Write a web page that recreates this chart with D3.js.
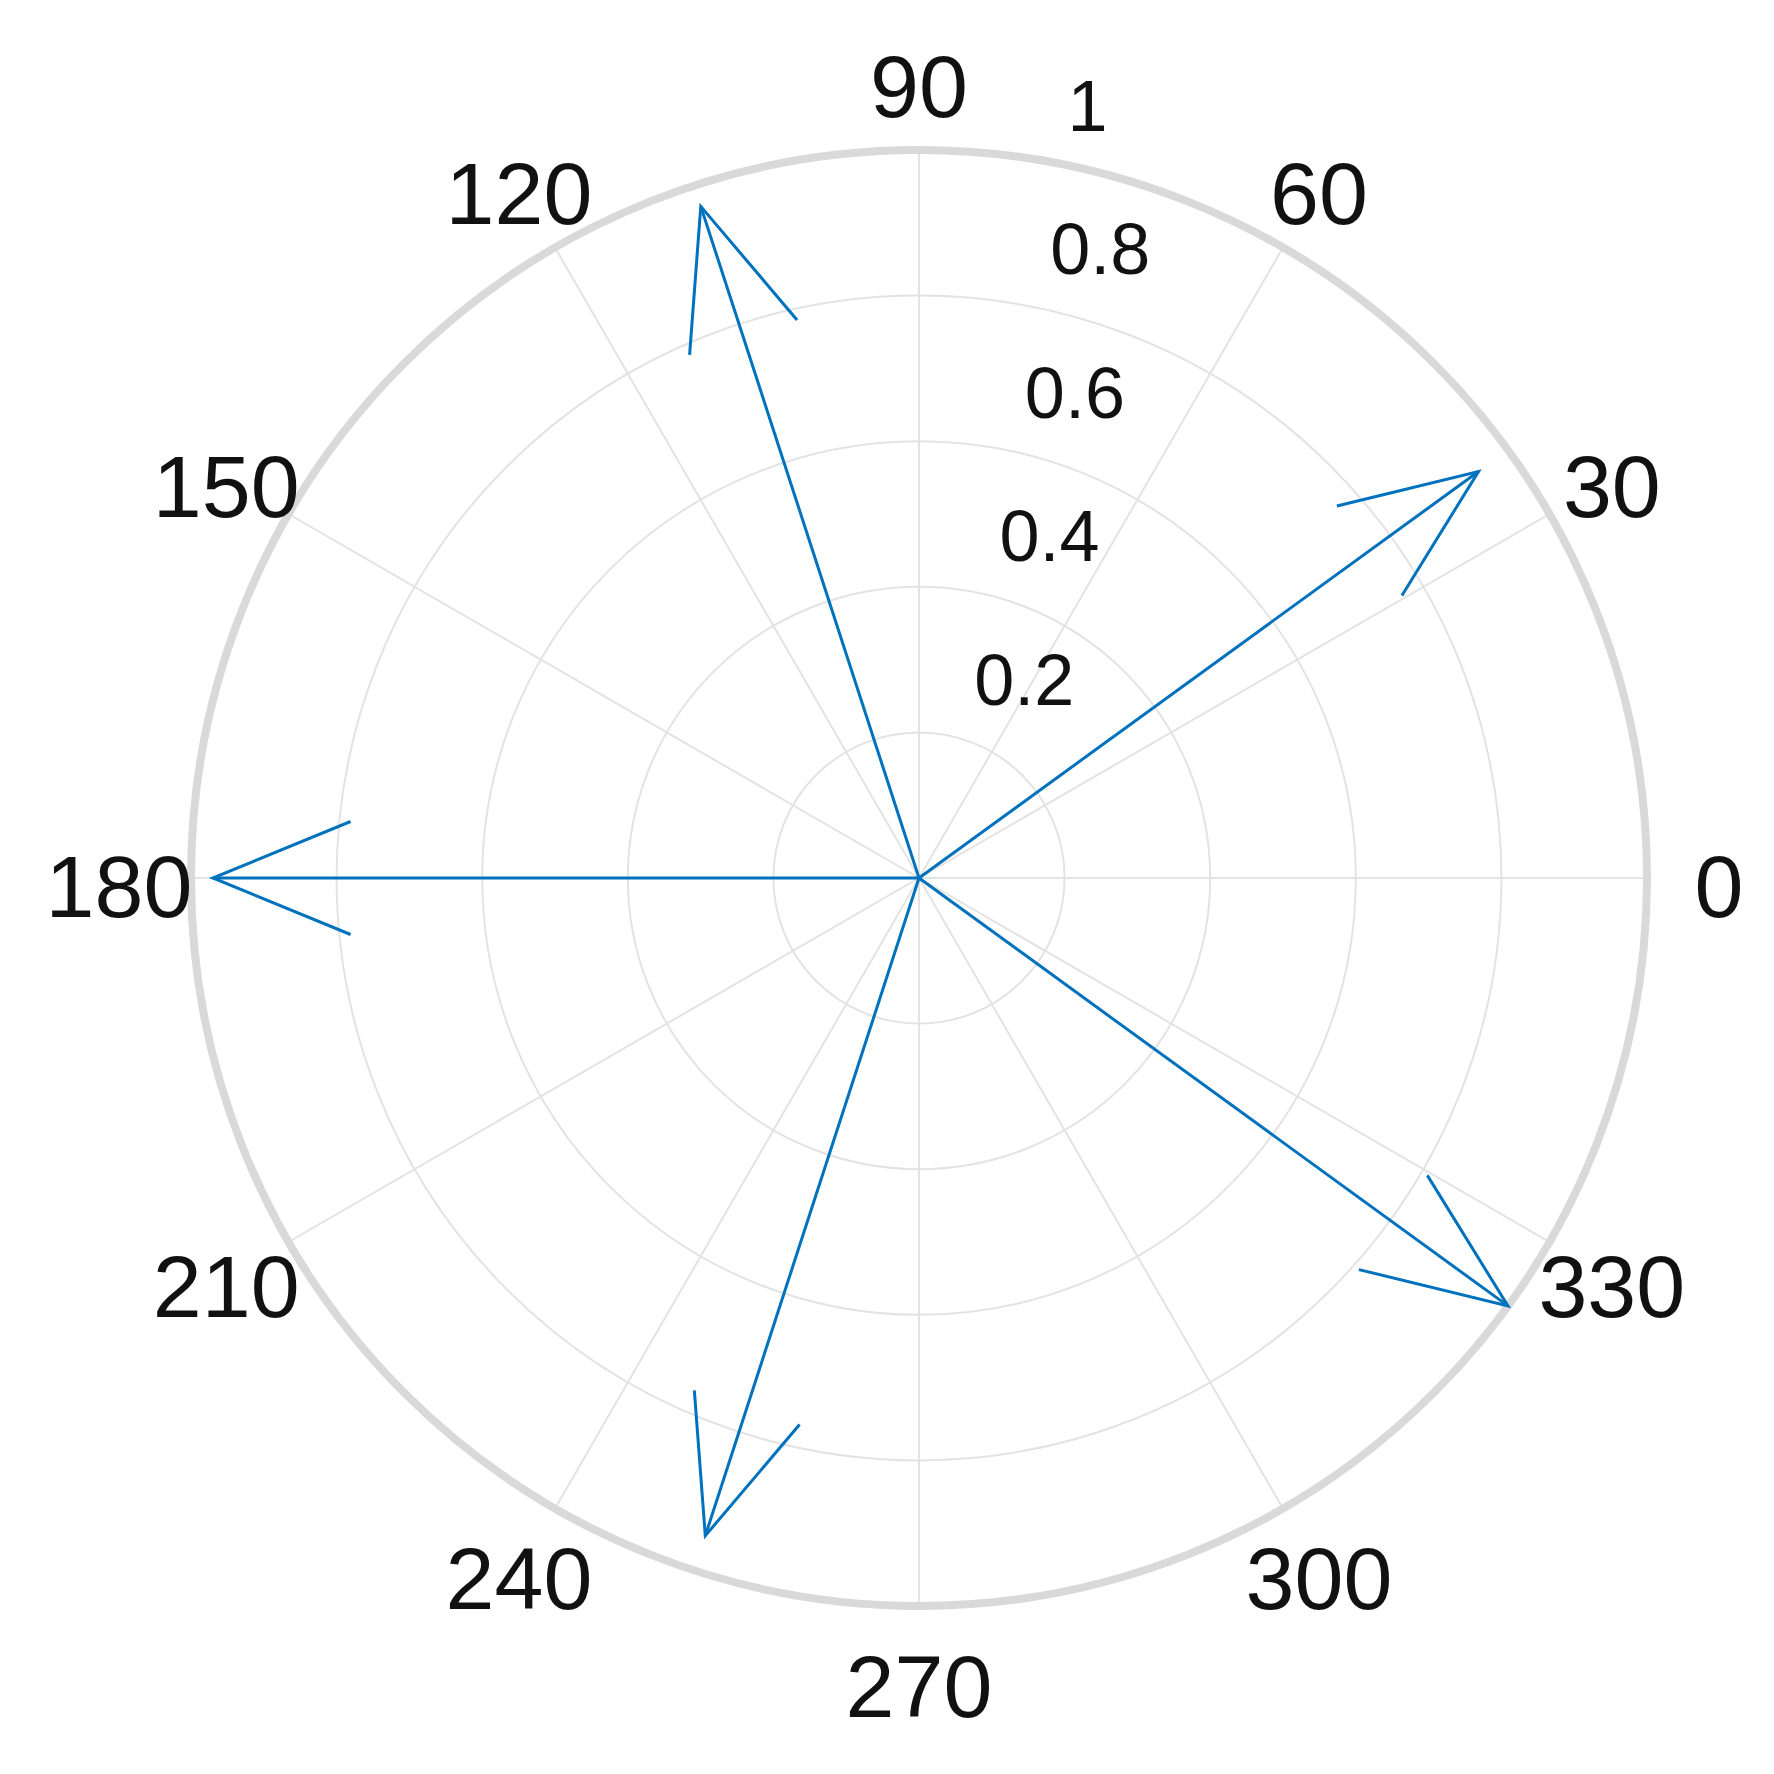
<!DOCTYPE html>
<html><head><meta charset="utf-8">
<script src="https://cdn.jsdelivr.net/npm/d3@7"></script>
<style>html,body{margin:0;background:#fff}</style></head>
<body><svg id="c" width="1774" height="1774"></svg>
<script>
const angleTicks = [0,30,60,90,120,150,180,210,240,270,300,330];
const radiusTicks = [0.2,0.4,0.6,0.8,1];
const radiusTickLabels = ["0.2","0.4","0.6","0.8","1"];
const arrowAngles = [36,108,180,252,324];
const arrowMagnitudes = [0.95,0.97,0.97,0.95,1.0];

const W=1774, cx=919, cy=878;
const svg=d3.select("#c");
const r=d3.scaleLinear().domain([0,1]).range([0,728]);
const toXY=(deg,v)=>{const a=deg*Math.PI/180;return [cx+r(v)*Math.cos(a), cy-r(v)*Math.sin(a)];};
const g=svg.append("g");
g.selectAll("circle.ring").data(radiusTicks.slice(0,-1)).join("circle")
 .attr("cx",cx).attr("cy",cy).attr("r",d=>r(d)).attr("fill","none")
 .attr("stroke","#e3e3e3").attr("stroke-width",2);
g.selectAll("line.spoke").data(angleTicks).join("line")
 .attr("x1",cx).attr("y1",cy)
 .attr("x2",d=>toXY(d,1)[0]).attr("y2",d=>toXY(d,1)[1])
 .attr("stroke","#e3e3e3").attr("stroke-width",2);
g.append("circle").attr("cx",cx).attr("cy",cy).attr("r",r(1)).attr("fill","none")
 .attr("stroke","#d9d9d9").attr("stroke-width",8);
g.selectAll("text.ang").data(angleTicks).join("text")
 .attr("x",d=>cx+800*Math.cos(d*Math.PI/180))
 .attr("y",d=>cy-800*Math.sin(d*Math.PI/180)+8)
 .attr("text-anchor","middle").attr("dominant-baseline","central")
 .attr("font-family","Liberation Sans, Arial, sans-serif").attr("font-size",88)
 .attr("fill","#111").text(d=>d);
g.selectAll("text.rad").data(radiusTicks).join("text")
 .attr("x",(d,i)=>toXY(80,d)[0]+(i==4?22:30))
 .attr("y",d=>toXY(80,d)[1]-55)
 .attr("dominant-baseline","central")
 .attr("font-family","Liberation Sans, Arial, sans-serif").attr("font-size",72)
 .attr("fill","#111").text((d,i)=>radiusTickLabels[i]);
const data=arrowAngles.map((a,i)=>({a,m:arrowMagnitudes[i]}));
const ag=g.append("g").attr("stroke","#0072BD").attr("stroke-width",3).attr("fill","none");
data.forEach(d=>{
  const tip=toXY(d.a,d.m);
  const L=r(d.m), back=0.195*L, side=0.08*L;
  const a=d.a*Math.PI/180;
  const ux=Math.cos(a), uy=-Math.sin(a);
  const px=-uy, py=ux;
  const bx=tip[0]-ux*back, by=tip[1]-uy*back;
  ag.append("path").attr("d",d3.line()([[cx,cy],tip]));
  ag.append("path").attr("d",d3.line()([[bx+px*side,by+py*side],tip,[bx-px*side,by-py*side]]));
});
</script></body></html>
